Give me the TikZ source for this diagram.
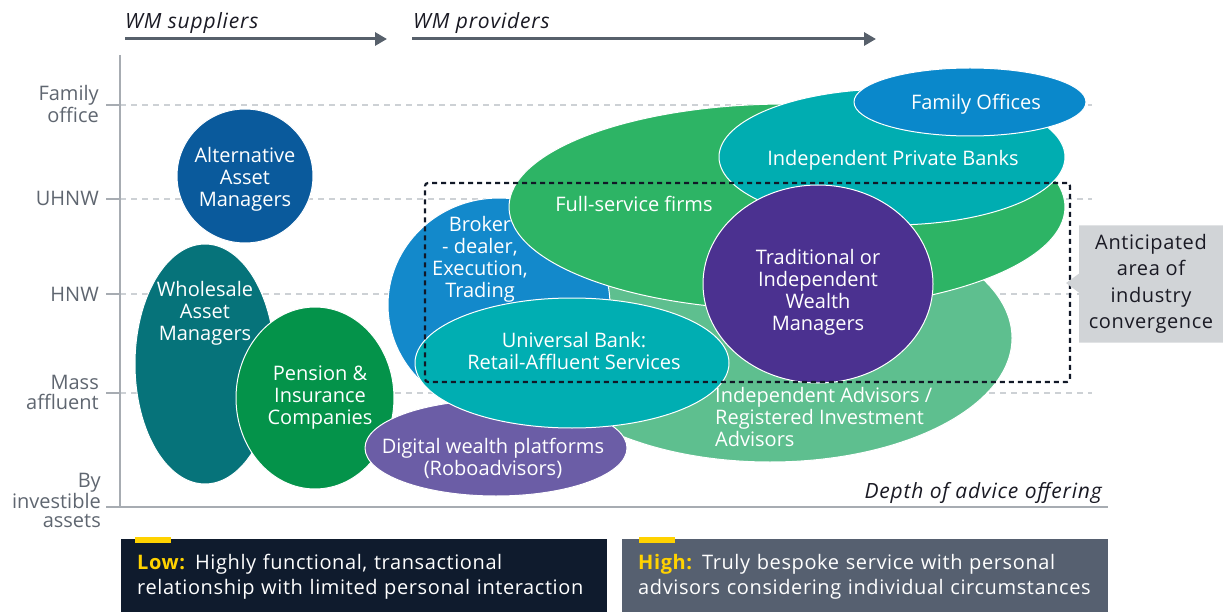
\documentclass[tikz,border=0pt]{standalone}
\usepackage{fontspec}
\setmainfont{Open Sans}
\usetikzlibrary{positioning, shapes.geometric, shapes.callouts, arrows.meta}

\definecolor{altblue}{HTML}{0A5A9C}
\definecolor{wholeteal}{HTML}{06737A}
\definecolor{pensgreen}{HTML}{04934A}
\definecolor{digipurple}{HTML}{6B5DA6}
\definecolor{brokerblue}{HTML}{1389CB}
\definecolor{unibank}{HTML}{00AEB2}
\definecolor{fullgreen}{HTML}{2DB465}
\definecolor{iagreen}{HTML}{5EBF8F}
\definecolor{privteal}{HTML}{00ADB1}
\definecolor{famblue}{HTML}{0A88CB}
\definecolor{tradpurple}{HTML}{4B3190}
\definecolor{zonenavy}{HTML}{111827}
\definecolor{calloutgray}{HTML}{D1D4D7}
\definecolor{lowbox}{HTML}{0F1B2D}
\definecolor{highbox}{HTML}{566070}
\definecolor{eyyellow}{HTML}{FFD200}
\definecolor{axisgray}{HTML}{A7ACB2}
\definecolor{lblgray}{HTML}{5F6670}
\definecolor{gridgray}{HTML}{CDD1D5}
\definecolor{arrowgray}{HTML}{57606B}
\definecolor{inkdark}{HTML}{1A1A24}

\tikzset{
blob/.style={ellipse, draw=white, line width=1pt, inner sep=0pt},
intext/.style={text=white, align=center, inner sep=0pt, yshift=-3pt, font=\fontsize{20}{22}\selectfont},
axislbl/.style={text=lblgray, align=right, anchor=east, inner sep=0pt, font=\fontsize{20}{20}\selectfont},
level/.style={draw=gridgray, dash pattern=on 6pt off 5pt, line width=1.3pt},
axis/.style={draw=axisgray, line width=2.5pt},
flow/.style={draw=arrowgray, line width=3pt, -{Triangle[length=12pt, width=13pt]}},
heading/.style={text=inkdark, inner sep=0pt, font=\fontsize{21}{22}\selectfont\itshape\addfontfeatures{LetterSpace=4}},
zone/.style={draw=zonenavy, line width=2.2pt, dash pattern=on 5pt off 4pt, rounded corners=3pt, inner sep=0pt},
legend/.style={rectangle, anchor=north west, inner xsep=16pt, inner ysep=0pt, text=white, align=left, font=\fontsize{20}{25}\selectfont\addfontfeatures{LetterSpace=3}},
}

\begin{document}
\begin{tikzpicture}[x=1pt, y=-1pt]
    \useasboundingbox (0,0) rectangle (1223,612);

    %axes
    \coordinate (ytop) at (120,55);
    \coordinate (origin) at (120,507);
    \coordinate (xstart) at (106,507);
    \coordinate (xend) at (1108,507);

    %level marks on the y axis
    \coordinate (fam0) at (106,105);  \coordinate (fam1) at (120,105);  \coordinate (fam2) at (1092,105);
    \coordinate (uhnw0) at (106,199); \coordinate (uhnw1) at (120,199); \coordinate (uhnw2) at (1092,199);
    \coordinate (hnw0) at (106,294);  \coordinate (hnw1) at (120,294);  \coordinate (hnw2) at (1092,294);
    \coordinate (mass0) at (106,393); \coordinate (mass1) at (120,393); \coordinate (mass2) at (1092,393);

    % dashed levels
    \draw[level] (fam1)--(fam2);
    \draw[level] (uhnw1)--(uhnw2);
    \draw[level] (hnw1)--(hnw2);
    \draw[level] (mass1)--(mass2);

    \draw[axis] (fam0)--(fam1);
    \draw[axis] (uhnw0)--(uhnw1);
    \draw[axis] (hnw0)--(hnw1);
    \draw[axis] (mass0)--(mass1);
    \draw[axis] (ytop)--(origin);
    \draw[axis] (xstart)--(xend);

    %level labels
    \node[axislbl] (famlbl)  at (99,104) {Family\\office};
    \node[axislbl] (uhnwlbl) at (99,198) {UHNW};
    \node[axislbl] (hnwlbl)  at (99,294) {HNW};
    \node[axislbl] (masslbl) at (99,392) {Mass\\affluent};
    \node[axislbl, font=\fontsize{20}{19}\selectfont] (bylbl) at (101,500) {By\\investible\\assets};

    %headings and arrows
    \node[heading, anchor=base west] (sup) at (125,29) {WM suppliers};
    \node[heading, anchor=base west] (prov) at (413,29) {WM providers};
    \node[heading, anchor=base east] (depth) at (1102,498) {Depth of advice offering};
    \coordinate (sup0) at (125,39);  \coordinate (sup1) at (387,39);
    \coordinate (prov0) at (412,39); \coordinate (prov1) at (876,39);
    \draw[flow] (sup0)--(sup1);
    \draw[flow] (prov0)--(prov1);

    %suppliers
    \node[blob, fill=wholeteal, minimum width=140, minimum height=240] (whole) at (205,364) { };
    \node[blob, fill=pensgreen, minimum width=158, minimum height=182] (pens) at (315,398) { };
    \node[blob, fill=altblue, minimum width=136, minimum height=134] (alt) at (245,176) { };

    %providers
    \node[blob, fill=iagreen, minimum width=484, minimum height=248] (ia) at (770,338) { };
    \node[blob, fill=brokerblue, minimum width=222, minimum height=214] (broker) at (499,305) { };
    \node[blob, fill=fullgreen, minimum width=556, minimum height=206] (full) at (787,207) { };
    \node[blob, fill=digipurple, minimum width=262, minimum height=96] (digi) at (496,448) { };
    \node[blob, fill=unibank, minimum width=314, minimum height=130] (uni) at (572,363) { };
    \node[blob, fill=privteal, minimum width=346, minimum height=136] (priv) at (892,157) { };
    \node[blob, fill=famblue, minimum width=232, minimum height=68] (fam) at (970,102) { };
    \node[blob, fill=tradpurple, minimum width=230, minimum height=198] (trad) at (818,284) { };

    % convergence zone
    \node[zone, minimum width=645, minimum height=199] (zone) at (747.5,282.5) { };
    \node[rectangle callout, fill=calloutgray, minimum width=144, minimum height=117,
          callout absolute pointer={(1066,283)}, callout pointer width=19pt,
          text=inkdark, align=center, inner sep=0pt,
          font=\fontsize{20}{26.5}\selectfont\addfontfeatures{LetterSpace=3}]
          (conv) at (1151,284) {Anticipated\\area of\\industry\\convergence};

    %texts in the ellipses
    \node[intext] (alt-t)    at (245,176) {Alternative\\Asset\\Managers};
    \node[intext] (whole-t)  at (205,310) {Wholesale\\Asset\\Managers};
    \node[intext] (pens-t)   at (320,395) {Pension \&\\Insurance\\Companies};
    \node[intext] (digi-t)   at (493,455) {Digital wealth platforms\\(Roboadvisors)};
    \node[intext] (broker-t) at (480,256) {Broker\\- dealer,\\Execution,\\Trading};
    \node[intext] (uni-t)    at (574,348) {Universal Bank:\\Retail-Affluent Services};
    \node[intext] (full-t)   at (634,201) {Full-service firms};
    \node[intext] (priv-t)   at (893,157) {Independent Private Banks};
    \node[intext] (fam-t)    at (976,101) {Family Offices};
    \node[intext] (trad-t)   at (818,289) {Traditional or\\Independent\\Wealth\\Managers};
    \node[intext, align=left, anchor=west] (ia-t) at (715,414) {Independent Advisors /\\Registered Investment\\Advisors};

    %depth of advice boxes
    \node[legend, fill=lowbox, minimum width=486, minimum height=75, text width=454] (low) at (121,539)
        {{\bfseries\color{eyyellow}Low:} Highly functional, transactional\\relationship with limited personal interaction};
    \node[legend, fill=highbox, minimum width=486, minimum height=75, text width=454] (high) at (622,539)
        {{\bfseries\color{eyyellow}High:} Truly bespoke service with personal\\advisors considering individual circumstances};
    \fill[eyyellow] ([xshift=14pt, yshift=2pt]low.north west) rectangle ++(36,6);
    \fill[eyyellow] ([xshift=17pt, yshift=2pt]high.north west) rectangle ++(36,6);
\end{tikzpicture}
\end{document}
